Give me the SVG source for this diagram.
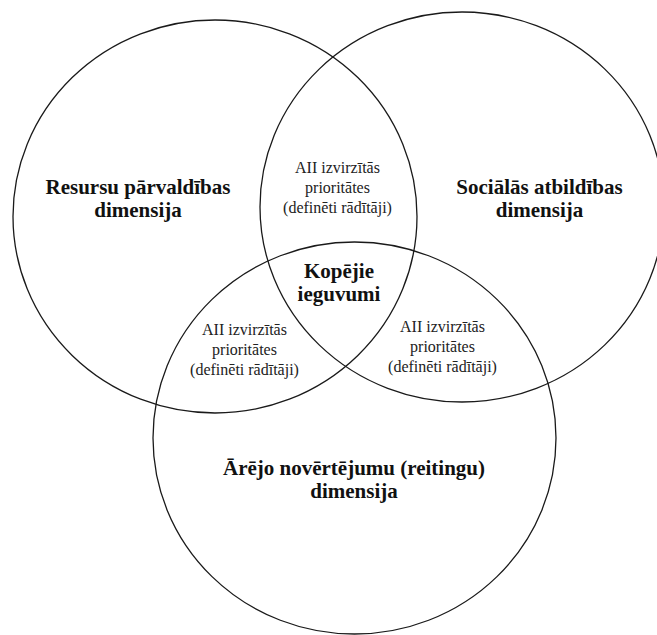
<svg xmlns="http://www.w3.org/2000/svg" width="657" height="635" viewBox="0 0 657 635">
  <style>
    .ring { fill: none; stroke: #1a1a1a; stroke-width: 1.3; }
    .main { font-family: "Liberation Serif", "Times New Roman", serif; font-size: 21px; font-weight: bold; fill: #111; text-anchor: middle; }
    .sub { font-family: "Liberation Serif", "Times New Roman", serif; font-size: 16px; fill: #222; text-anchor: middle; }
  </style>
  <rect width="657" height="635" fill="#ffffff"/>

  <!-- three overlapping dimensions -->
  <g id="resursu">
    <ellipse class="ring" cx="215" cy="216.5" rx="202" ry="196.5"/>
    <text class="main" x="138" y="194">Resursu pārvaldības</text>
    <text class="main" x="138" y="217">dimensija</text>
  </g>

  <g id="socialas">
    <ellipse class="ring" cx="462" cy="207" rx="202" ry="195"/>
    <text class="main" x="539.5" y="194">Sociālās atbildības</text>
    <text class="main" x="539.5" y="217">dimensija</text>
  </g>

  <g id="arejo">
    <ellipse class="ring" cx="354.5" cy="438" rx="201.5" ry="196"/>
    <text class="main" x="354" y="475">Ārējo novērtējumu (reitingu)</text>
    <text class="main" x="354" y="498">dimensija</text>
  </g>

  <!-- pairwise overlaps -->
  <g id="overlap-top">
    <text class="sub" x="337.5" y="173">AII izvirzītās</text>
    <text class="sub" x="337.5" y="193">prioritātes</text>
    <text class="sub" x="337.5" y="213">(definēti rādītāji)</text>
  </g>

  <g id="overlap-left">
    <text class="sub" x="244.5" y="335">AII izvirzītās</text>
    <text class="sub" x="244.5" y="355">prioritātes</text>
    <text class="sub" x="244.5" y="375">(definēti rādītāji)</text>
  </g>

  <g id="overlap-right">
    <text class="sub" x="442.5" y="332">AII izvirzītās</text>
    <text class="sub" x="442.5" y="352">prioritātes</text>
    <text class="sub" x="442.5" y="372">(definēti rādītāji)</text>
  </g>

  <!-- centre where all three meet -->
  <g id="kopejie">
    <text class="main" x="339" y="278">Kopējie</text>
    <text class="main" x="339" y="301">ieguvumi</text>
  </g>

  <g id="connectors"/>
</svg>
